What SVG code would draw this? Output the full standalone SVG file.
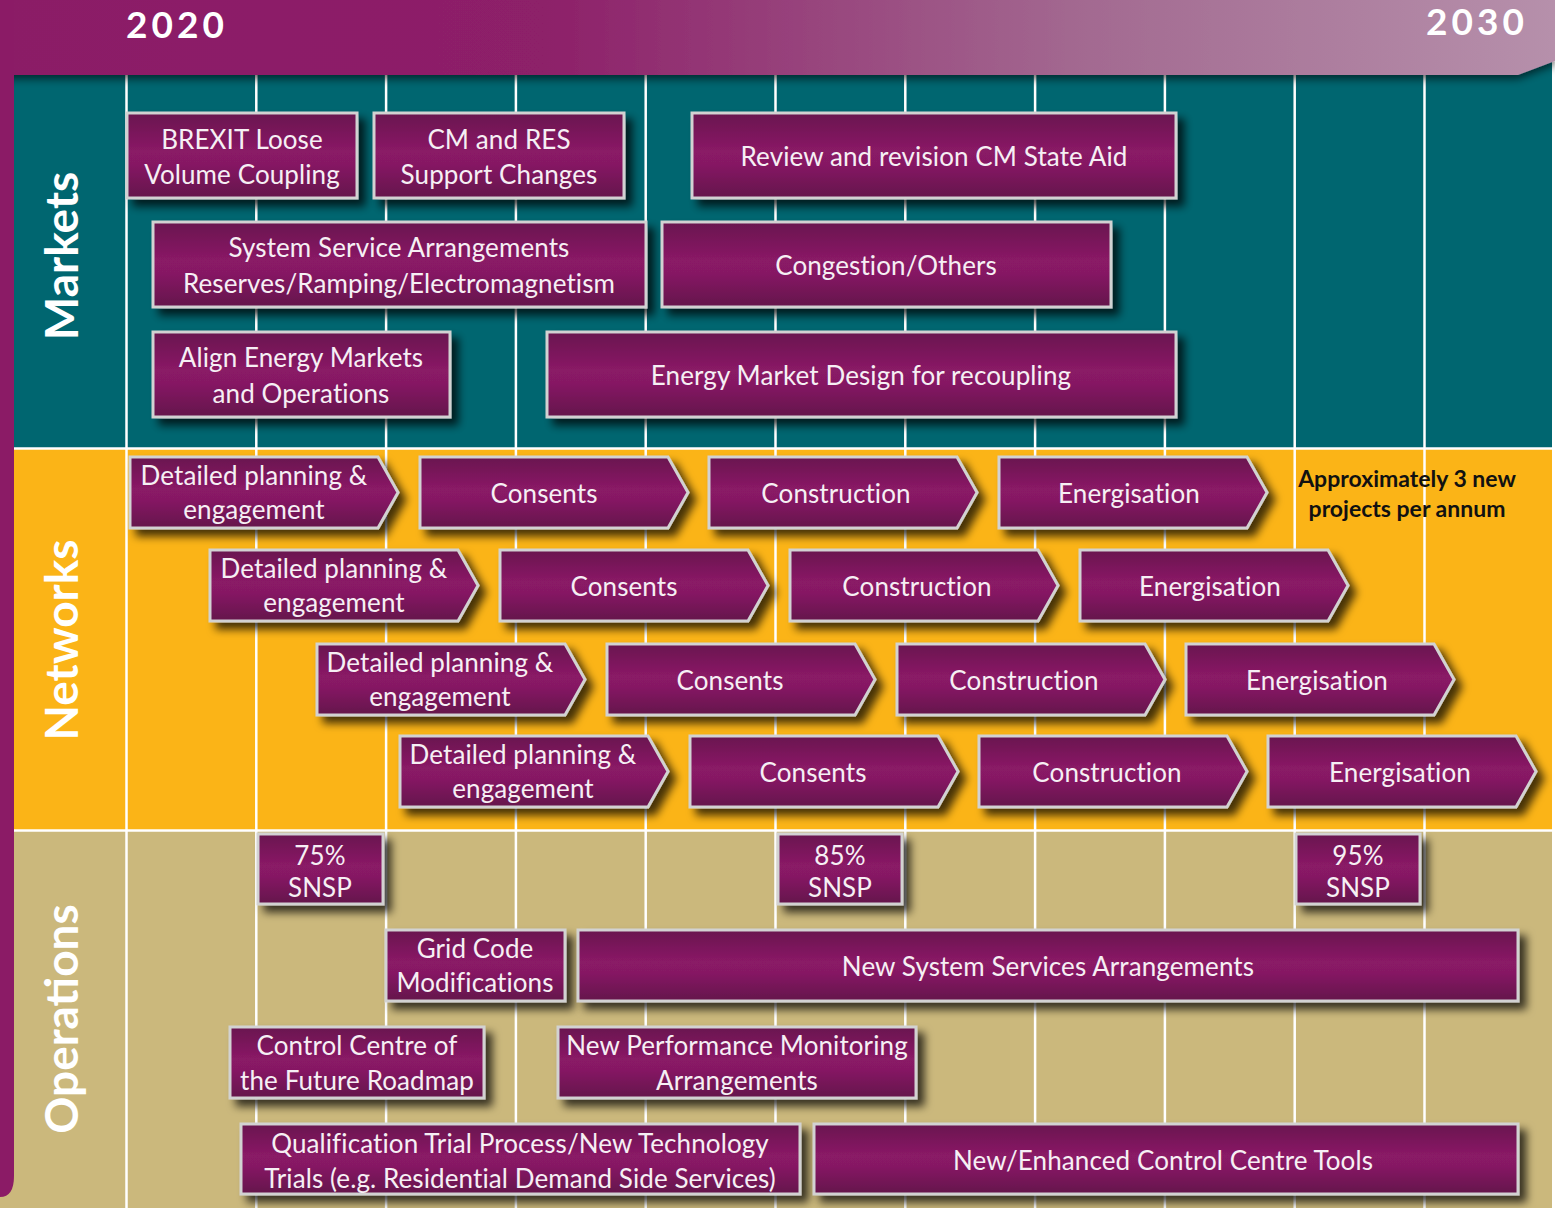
<svg xmlns="http://www.w3.org/2000/svg" width="1555" height="1208" viewBox="0 0 1555 1208">
<defs>
<linearGradient id="boxGrad" x1="0" y1="0" x2="0" y2="1">
<stop offset="0" stop-color="#69134f"/>
<stop offset="0.45" stop-color="#8a1a66"/>
<stop offset="0.6" stop-color="#861964"/>
<stop offset="1" stop-color="#64124b"/>
</linearGradient>
<linearGradient id="hdrGrad" x1="0" y1="0" x2="1555" y2="0" gradientUnits="userSpaceOnUse">
<stop offset="0" stop-color="#8b1b66"/>
<stop offset="0.35" stop-color="#8d2069"/>
<stop offset="0.7" stop-color="#a36a91"/>
<stop offset="1" stop-color="#b690ab"/>
</linearGradient>
<filter id="sh" x="-10%" y="-20%" width="125%" height="150%">
<feDropShadow dx="7" dy="7" stdDeviation="4" flood-color="#000" flood-opacity="0.72"/>
</filter>
<filter id="hsh" x="-5%" y="-20%" width="110%" height="160%">
<feDropShadow dx="0" dy="4" stdDeviation="4" flood-color="#000" flood-opacity="0.6"/>
</filter>
</defs>
<style>
.box{fill:url(#boxGrad);stroke:#d2d2d2;stroke-width:3;filter:url(#sh)}
.t{font-family:Lato,"Liberation Sans",sans-serif;font-size:26px;fill:#f6eff4;text-anchor:middle;letter-spacing:0.1px}
.grid{stroke:#ffffff;stroke-width:2.5}
.sec{font-family:Lato,"Liberation Sans",sans-serif;font-weight:bold;font-size:46px;fill:#ffffff;text-anchor:middle}
.yr{font-family:Lato,"Liberation Sans",sans-serif;font-weight:bold;font-size:37px;fill:#ffffff;letter-spacing:4px}
.note{font-family:Lato,"Liberation Sans",sans-serif;font-weight:bold;font-size:23px;fill:#111111;text-anchor:middle}
</style>
<rect x="0" y="0" width="1555" height="1208" fill="#ffffff"/>
<g id="bands">
<rect x="0" y="60" width="1552" height="389" fill="#006670"/>
<rect x="0" y="449" width="1552" height="382" fill="#fbb417"/>
<rect x="0" y="831" width="1552" height="377" fill="#cbb87c"/>
</g>
<g id="grid">
<line class="grid" x1="126.5" y1="74" x2="126.5" y2="1208"/>
<line class="grid" x1="256.3" y1="74" x2="256.3" y2="1208"/>
<line class="grid" x1="386.1" y1="74" x2="386.1" y2="1208"/>
<line class="grid" x1="515.9" y1="74" x2="515.9" y2="1208"/>
<line class="grid" x1="645.7" y1="74" x2="645.7" y2="1208"/>
<line class="grid" x1="775.5" y1="74" x2="775.5" y2="1208"/>
<line class="grid" x1="905.3" y1="74" x2="905.3" y2="1208"/>
<line class="grid" x1="1035.1" y1="74" x2="1035.1" y2="1208"/>
<line class="grid" x1="1164.9" y1="74" x2="1164.9" y2="1208"/>
<line class="grid" x1="1294.7" y1="74" x2="1294.7" y2="1208"/>
<line class="grid" x1="1424.5" y1="74" x2="1424.5" y2="1208"/>
<line class="grid" x1="14" y1="448.5" x2="1553" y2="448.5"/>
<line class="grid" x1="14" y1="830.5" x2="1553" y2="830.5"/>
</g>
<g id="header">
<path d="M0,0 H1555 V61 L1518,75 H0 Z" fill="url(#hdrGrad)" filter="url(#hsh)"/>
<path d="M0,0 H14 V1176 Q14,1197 0,1197 Z" fill="#8b1b66"/>
<text class="yr" x="126" y="38">2020</text>
<text class="yr" x="1426" y="35">2030</text>
</g>
<g id="section-labels">
<text class="sec" transform="translate(78,256) rotate(-90)">Markets</text>
<text class="sec" transform="translate(78,640) rotate(-90)">Networks</text>
<text class="sec" transform="translate(78,1019) rotate(-90)">Operations</text>
</g>
<g id="markets">
<g id="m-brexit"><rect class="box" x="127" y="113" width="230" height="85"/><text class="t" x="242" y="149">BREXIT Loose</text><text class="t" x="242" y="184">Volume Coupling</text></g>
<g id="m-cmres"><rect class="box" x="374" y="113" width="250" height="85"/><text class="t" x="499" y="149">CM and RES</text><text class="t" x="499" y="184">Support Changes</text></g>
<g id="m-review"><rect class="box" x="692" y="113" width="484" height="85"/><text class="t" x="934" y="166">Review and revision CM State Aid</text></g>
<g id="m-sysserv"><rect class="box" x="153" y="222" width="493" height="85"/><text class="t" x="399" y="257">System Service Arrangements</text><text class="t" x="399" y="293">Reserves/Ramping/Electromagnetism</text></g>
<g id="m-congestion"><rect class="box" x="662" y="222" width="449" height="85"/><text class="t" x="886" y="275">Congestion/Others</text></g>
<g id="m-align"><rect class="box" x="153" y="332" width="297" height="85"/><text class="t" x="301" y="367">Align Energy Markets</text><text class="t" x="301" y="403">and Operations</text></g>
<g id="m-design"><rect class="box" x="547" y="332" width="629" height="85"/><text class="t" x="861" y="385">Energy Market Design for recoupling</text></g>
</g>
<g id="networks">
<g id="n1-plan"><path class="box" d="M130,457 H378 L398,492.5 L378,528 H130 Z"/><text class="t" x="254" y="485">Detailed planning &amp;</text><text class="t" x="254" y="519">engagement</text></g>
<g id="n1-consents"><path class="box" d="M420,457 H668 L688,492.5 L668,528 H420 Z"/><text class="t" x="544" y="503">Consents</text></g>
<g id="n1-construction"><path class="box" d="M709,457 H957 L977,492.5 L957,528 H709 Z"/><text class="t" x="836" y="503">Construction</text></g>
<g id="n1-energisation"><path class="box" d="M999,457 H1247 L1267,492.5 L1247,528 H999 Z"/><text class="t" x="1129" y="503">Energisation</text></g>
<g id="n2-plan"><path class="box" d="M210,550 H458 L478,585.5 L458,621 H210 Z"/><text class="t" x="334" y="578">Detailed planning &amp;</text><text class="t" x="334" y="612">engagement</text></g>
<g id="n2-consents"><path class="box" d="M500,550 H748 L768,585.5 L748,621 H500 Z"/><text class="t" x="624" y="596">Consents</text></g>
<g id="n2-construction"><path class="box" d="M790,550 H1038 L1058,585.5 L1038,621 H790 Z"/><text class="t" x="917" y="596">Construction</text></g>
<g id="n2-energisation"><path class="box" d="M1080,550 H1328 L1348,585.5 L1328,621 H1080 Z"/><text class="t" x="1210" y="596">Energisation</text></g>
<g id="n3-plan"><path class="box" d="M317,644 H565 L585,679.5 L565,715 H317 Z"/><text class="t" x="440" y="672">Detailed planning &amp;</text><text class="t" x="440" y="706">engagement</text></g>
<g id="n3-consents"><path class="box" d="M607,644 H855 L875,679.5 L855,715 H607 Z"/><text class="t" x="730" y="690">Consents</text></g>
<g id="n3-construction"><path class="box" d="M897,644 H1145 L1165,679.5 L1145,715 H897 Z"/><text class="t" x="1024" y="690">Construction</text></g>
<g id="n3-energisation"><path class="box" d="M1186,644 H1434 L1454,679.5 L1434,715 H1186 Z"/><text class="t" x="1317" y="690">Energisation</text></g>
<g id="n4-plan"><path class="box" d="M400,736 H648 L668,771.5 L648,807 H400 Z"/><text class="t" x="523" y="764">Detailed planning &amp;</text><text class="t" x="523" y="798">engagement</text></g>
<g id="n4-consents"><path class="box" d="M690,736 H938 L958,771.5 L938,807 H690 Z"/><text class="t" x="813" y="782">Consents</text></g>
<g id="n4-construction"><path class="box" d="M979,736 H1227 L1247,771.5 L1227,807 H979 Z"/><text class="t" x="1107" y="782">Construction</text></g>
<g id="n4-energisation"><path class="box" d="M1268,736 H1516 L1536,771.5 L1516,807 H1268 Z"/><text class="t" x="1400" y="782">Energisation</text></g>
<g id="n-note"><text class="note" x="1407" y="487">Approximately 3 new</text><text class="note" x="1407" y="517">projects per annum</text></g>
</g>
<g id="operations">
<g id="o-snsp75"><rect class="box" x="258" y="834" width="125" height="70"/><text class="t" x="320" y="865">75%</text><text class="t" x="320" y="897">SNSP</text></g>
<g id="o-snsp85"><rect class="box" x="778" y="834" width="124" height="70"/><text class="t" x="840" y="865">85%</text><text class="t" x="840" y="897">SNSP</text></g>
<g id="o-snsp95"><rect class="box" x="1296" y="834" width="124" height="70"/><text class="t" x="1358" y="865">95%</text><text class="t" x="1358" y="897">SNSP</text></g>
<g id="o-gridcode"><rect class="box" x="386" y="930" width="179" height="71"/><text class="t" x="475" y="958">Grid Code</text><text class="t" x="475" y="992">Modifications</text></g>
<g id="o-newsys"><rect class="box" x="578" y="930" width="940" height="71"/><text class="t" x="1048" y="976">New System Services Arrangements</text></g>
<g id="o-ccf"><rect class="box" x="230" y="1027" width="254" height="71"/><text class="t" x="357" y="1055">Control Centre of</text><text class="t" x="357" y="1090">the Future Roadmap</text></g>
<g id="o-npm"><rect class="box" x="558" y="1027" width="358" height="71"/><text class="t" x="737" y="1055">New Performance Monitoring</text><text class="t" x="737" y="1090">Arrangements</text></g>
<g id="o-qual"><rect class="box" x="241" y="1124" width="559" height="70"/><text class="t" x="520" y="1153">Qualification Trial Process/New Technology</text><text class="t" x="520" y="1188">Trials (e.g. Residential Demand Side Services)</text></g>
<g id="o-tools"><rect class="box" x="814" y="1124" width="704" height="70"/><text class="t" x="1163" y="1170">New/Enhanced Control Centre Tools</text></g>
</g>
<g id="connectors"/>
</svg>
